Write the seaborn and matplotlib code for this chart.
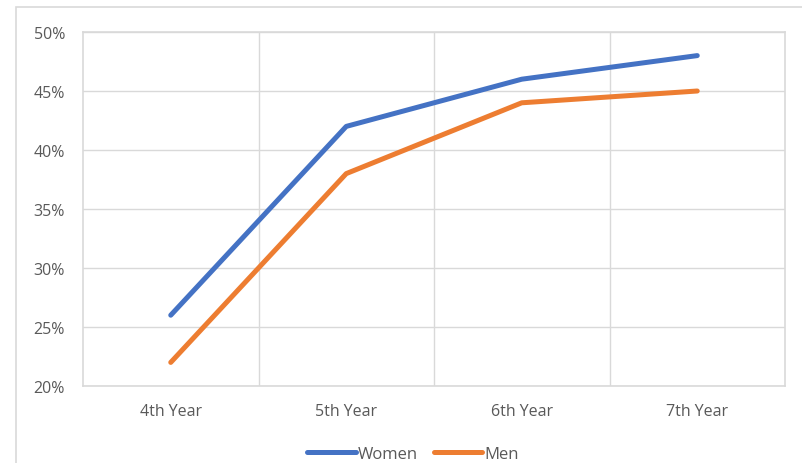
import seaborn as sns
import pandas as pd
import matplotlib.pyplot as plt
from matplotlib.patches import Rectangle
from matplotlib.lines import Line2D
from matplotlib.ticker import PercentFormatter, FixedLocator

# data
years = ["4th Year", "5th Year", "6th Year", "7th Year"]
women = [26, 42, 46, 48]
men = [22, 38, 44, 45]

data = pd.DataFrame({
    "year": years * 2,
    "share": women + men,
    "group": ["Women"] * len(years) + ["Men"] * len(years),
})

sns.set_style("white")
plt.rcParams["font.family"] = ["Open Sans", "DejaVu Sans"]

fig = plt.figure(figsize=(8.02, 4.64), dpi=100)
ax = fig.add_axes([83 / 802, (464 - 387) / 464, (785 - 83) / 802, (387 - 33) / 464])

# chart area border, cropped at right/bottom
fig.patches.append(Rectangle((16 / 802, -0.1), 1.2, (464 - 8) / 464 + 0.1,
                             transform=fig.transFigure, fill=False,
                             edgecolor="#d9d9d9", linewidth=1.2))

sns.lineplot(data=data, x="year", y="share", hue="group", sort=False,
             palette={"Women": "#4472C4", "Men": "#ED7D31"},
             linewidth=3.6, ax=ax, legend=False,
             solid_capstyle="round")

ax.set_xlim(-0.5, 3.5)
ax.set_ylim(20, 50)
ax.set_yticks(range(20, 51, 5))
ax.yaxis.set_major_formatter(PercentFormatter(decimals=0))
ax.xaxis.set_minor_locator(FixedLocator([0.5, 1.5, 2.5]))
ax.grid(axis="y", which="major", color="#d9d9d9", linewidth=1)
ax.grid(axis="x", which="minor", color="#d9d9d9", linewidth=1)
ax.set_axisbelow(True)
for s in ax.spines.values():
    s.set_color("#d9d9d9")
    s.set_linewidth(1.2)

ax.tick_params(axis="both", which="both", length=0, labelsize=11.5,
               labelcolor="#595959")
ax.tick_params(axis="y", pad=13)
ax.tick_params(axis="x", pad=12)
ax.set_xlabel("")
ax.set_ylabel("")

handles = [Line2D([], [], color="#4472C4", linewidth=3.6, solid_capstyle="round"),
           Line2D([], [], color="#ED7D31", linewidth=3.6, solid_capstyle="round")]
leg = fig.legend(handles, ["Women", "Men"], loc="center",
                 bbox_to_anchor=(413 / 802, (464 - 455) / 464), ncol=2,
                 frameon=False, fontsize=12, handlelength=2.9,
                 handletextpad=0.1, columnspacing=1.0)
for t in leg.get_texts():
    t.set_color("#595959")

fig.savefig("out.png", dpi=100)
